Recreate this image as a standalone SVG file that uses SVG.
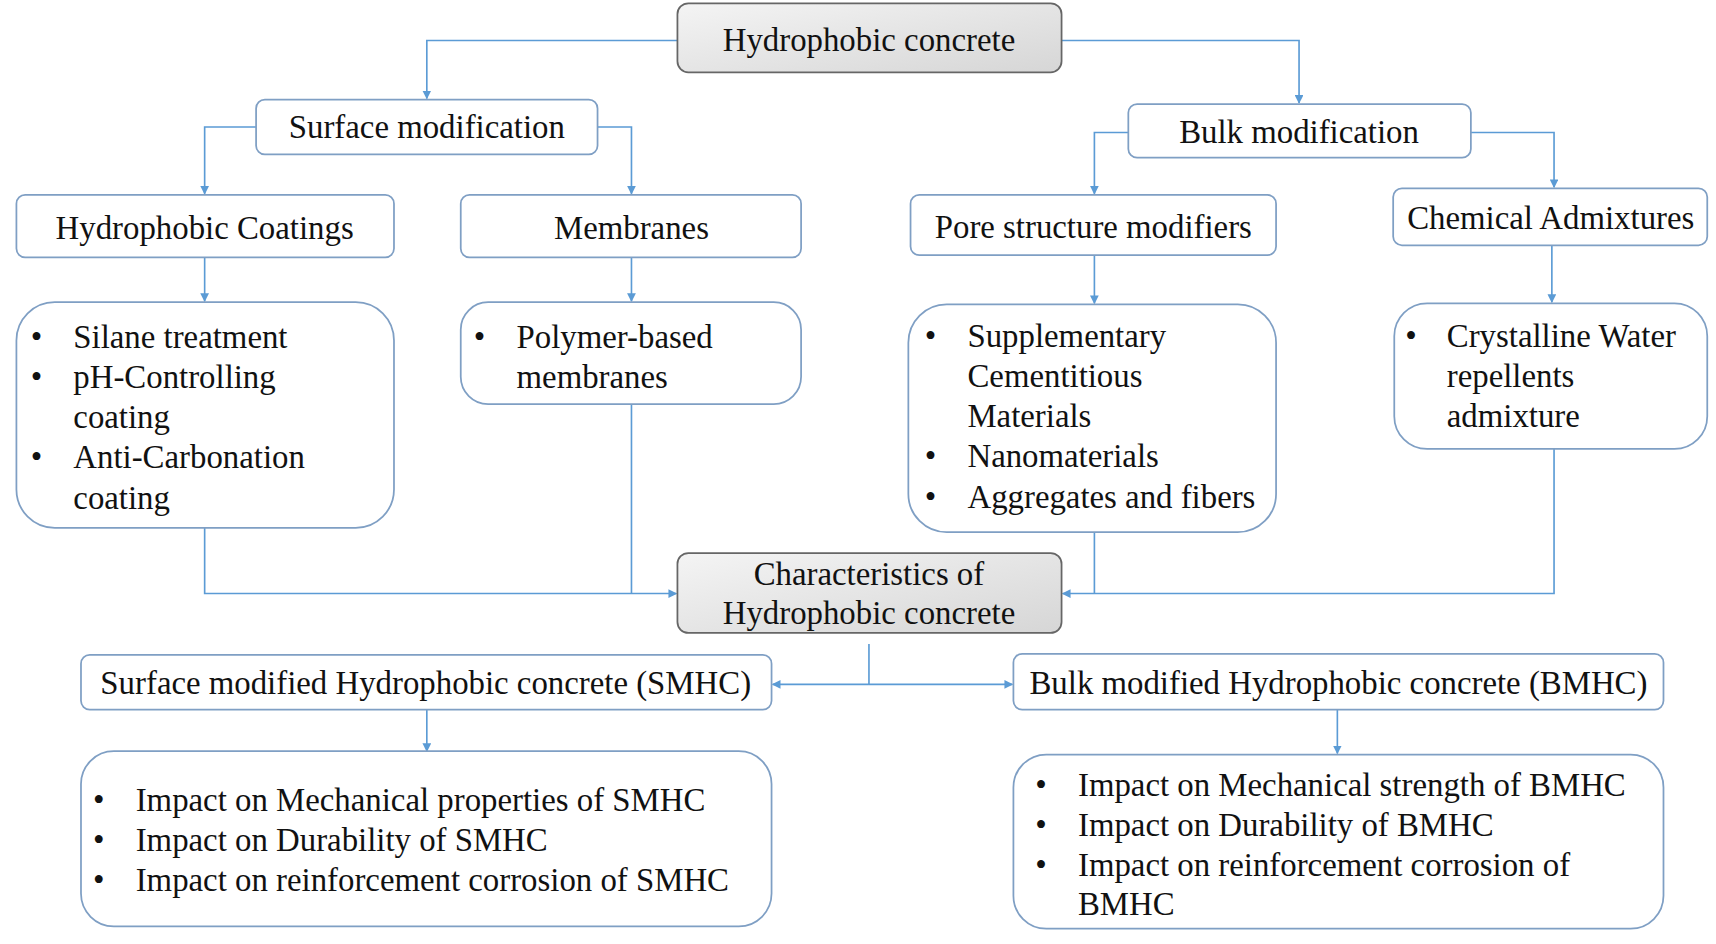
<svg xmlns="http://www.w3.org/2000/svg" width="1716" height="944" viewBox="0 0 1716 944">
<style>
.b{fill:#fff;stroke:#7f9fc4;stroke-width:1.6}
.g{fill:url(#gr);stroke:#666;stroke-width:1.6}
text{font-family:"Liberation Serif","Times New Roman",serif;font-size:30px;fill:#111}
.c{text-anchor:middle}
.l{fill:none;stroke:#5b9bd5;stroke-width:1.5}
</style>
<defs>
<linearGradient id="gr" x1="0" y1="0" x2="1" y2="1"><stop offset="0" stop-color="#f4f4f4"/><stop offset="1" stop-color="#d6d6d6"/></linearGradient>
<marker id="a" viewBox="0 0 10 10" refX="9" refY="5" markerWidth="8" markerHeight="8" markerUnits="userSpaceOnUse" orient="auto"><path d="M0,0L10,5L0,10z" fill="#5b9bd5"/></marker>
</defs>
<rect width="1716" height="944" fill="#fff"/>
<g transform="scale(1.0944,1.0951)">
<g id="connectors">
<path class="l" marker-end="url(#a)" d="M619,37H390V90"/>
<path class="l" marker-end="url(#a)" d="M970,37H1187V94"/>
<path class="l" marker-end="url(#a)" d="M234,116H187V177"/>
<path class="l" marker-end="url(#a)" d="M546,116H577V177"/>
<path class="l" marker-end="url(#a)" d="M1031,121H1000V177"/>
<path class="l" marker-end="url(#a)" d="M1344,121H1420V171"/>
<path class="l" marker-end="url(#a)" d="M187,235V275"/>
<path class="l" marker-end="url(#a)" d="M577,235V275"/>
<path class="l" marker-end="url(#a)" d="M1000,233V277"/>
<path class="l" marker-end="url(#a)" d="M1418,224V276"/>
<path class="l" marker-end="url(#a)" d="M187,482V542H618"/>
<path class="l" d="M577,369V542"/>
<path class="l" marker-end="url(#a)" d="M1420,410V542H971"/>
<path class="l" d="M1000,486V542"/>
<path class="l" d="M794,588V625"/>
<path class="l" marker-end="url(#a)" d="M794,625H706"/>
<path class="l" marker-end="url(#a)" d="M794,625H925"/>
<path class="l" marker-end="url(#a)" d="M390,648V686"/>
<path class="l" marker-end="url(#a)" d="M1222,648V688"/>
</g>
<g id="top"><rect class="g" x="619" y="3" width="351" height="63" rx="10"/><text class="c" x="794" y="47">Hydrophobic concrete</text></g>
<g id="surface"><rect class="b" x="234" y="91" width="312" height="50" rx="8"/><text class="c" x="390" y="126">Surface modification</text></g>
<g id="bulk"><rect class="b" x="1031" y="95" width="313" height="49" rx="8"/><text class="c" x="1187" y="131">Bulk modification</text></g>
<g id="coatings"><rect class="b" x="15" y="178" width="345" height="57" rx="8"/><text class="c" x="187" y="218">Hydrophobic Coatings</text></g>
<g id="membranes"><rect class="b" x="421" y="178" width="311" height="57" rx="8"/><text class="c" x="577" y="218">Membranes</text></g>
<g id="pore"><rect class="b" x="832" y="178" width="334" height="55" rx="8"/><text class="c" x="999" y="217">Pore structure modifiers</text></g>
<g id="chem"><rect class="b" x="1273" y="172" width="287" height="52" rx="8"/><text class="c" x="1417" y="209">Chemical Admixtures</text></g>
<g id="coatlist"><rect class="b" x="15" y="276" width="345" height="206" rx="35"/>
<text x="28" y="318">•</text><text x="67" y="318">Silane treatment</text>
<text x="28" y="354">•</text><text x="67" y="354">pH-Controlling</text>
<text x="67" y="391">coating</text>
<text x="28" y="427">•</text><text x="67" y="427">Anti-Carbonation</text>
<text x="67" y="465">coating</text></g>
<g id="memlist"><rect class="b" x="421" y="276" width="311" height="93" rx="25"/>
<text x="433" y="318">•</text><text x="472" y="318">Polymer-based</text>
<text x="472" y="354">membranes</text></g>
<g id="porelist"><rect class="b" x="830" y="278" width="336" height="208" rx="35"/>
<text x="845" y="317">•</text><text x="884" y="317">Supplementary</text>
<text x="884" y="353">Cementitious</text>
<text x="884" y="390">Materials</text>
<text x="845" y="426">•</text><text x="884" y="426">Nanomaterials</text>
<text x="845" y="464">•</text><text x="884" y="464">Aggregates and fibers</text></g>
<g id="chemlist"><rect class="b" x="1274" y="277" width="286" height="133" rx="30"/>
<text x="1284" y="317">•</text><text x="1322" y="317">Crystalline Water</text>
<text x="1322" y="353">repellents</text>
<text x="1322" y="390">admixture</text></g>
<g id="char"><rect class="g" x="619" y="505" width="351" height="73" rx="10"/>
<text class="c" x="794" y="534">Characteristics of</text><text class="c" x="794" y="570">Hydrophobic concrete</text></g>
<g id="smhc"><rect class="b" x="74" y="598" width="631" height="50" rx="8"/><text class="c" x="389" y="634">Surface modified Hydrophobic concrete (SMHC)</text></g>
<g id="bmhc"><rect class="b" x="926" y="597" width="594" height="51" rx="8"/><text class="c" x="1223" y="634">Bulk modified Hydrophobic concrete (BMHC)</text></g>
<g id="smhclist"><rect class="b" x="74" y="686" width="631" height="160" rx="30"/>
<text x="85" y="741">•</text><text x="124" y="741">Impact on Mechanical properties of SMHC</text>
<text x="85" y="777">•</text><text x="124" y="777">Impact on Durability of SMHC</text>
<text x="85" y="814">•</text><text x="124" y="814">Impact on reinforcement corrosion of SMHC</text></g>
<g id="bmhclist"><rect class="b" x="926" y="689" width="594" height="159" rx="30"/>
<text x="946" y="727">•</text><text x="985" y="727">Impact on Mechanical strength of BMHC</text>
<text x="946" y="763">•</text><text x="985" y="763">Impact on Durability of BMHC</text>
<text x="946" y="800">•</text><text x="985" y="800">Impact on reinforcement corrosion of</text>
<text x="985" y="836">BMHC</text></g>
</g>
</svg>
